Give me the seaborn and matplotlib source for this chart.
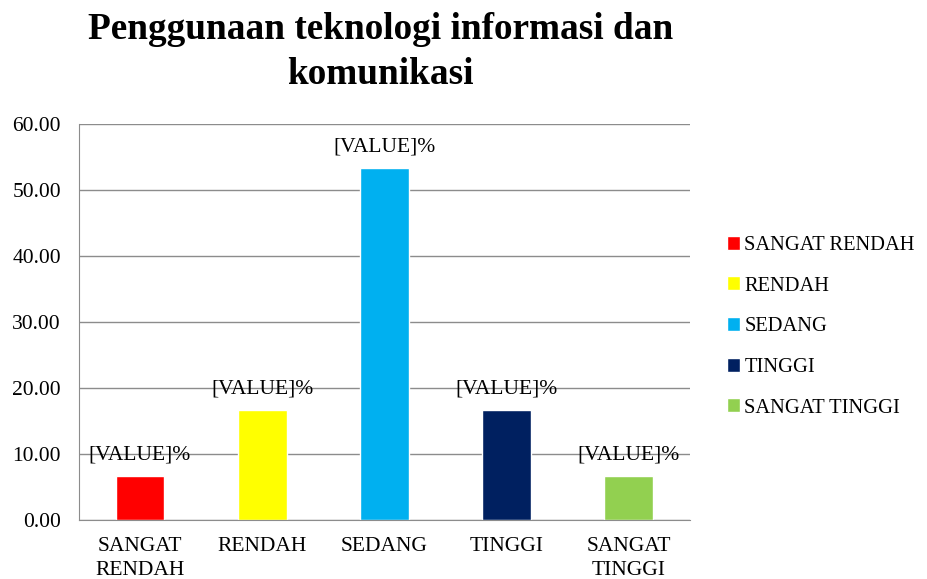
import matplotlib
matplotlib.use('Agg')
import matplotlib.pyplot as plt
import seaborn as sns
import pandas as pd
from matplotlib.ticker import FormatStrFormatter

# data
kategori = ['SANGAT RENDAH', 'RENDAH', 'SEDANG', 'TINGGI', 'SANGAT TINGGI']
label_x = ['SANGAT\nRENDAH', 'RENDAH', 'SEDANG', 'TINGGI', 'SANGAT\nTINGGI']
persen = [6.67, 16.67, 53.33, 16.67, 6.67]
warna = ['#FF0000', '#FFFF00', '#00B0F0', '#002060', '#92D050']

df = pd.DataFrame({'kategori': kategori, 'persen': persen})

sns.set_style('white')
plt.rcParams['font.family'] = ['Liberation Serif', 'DejaVu Serif']
plt.rcParams['text.color'] = 'black'
plt.rcParams['xtick.color'] = 'black'
plt.rcParams['ytick.color'] = 'black'

fig = plt.figure(figsize=(9.28, 5.79), dpi=100)
ax = fig.add_axes([0.085, 0.102, 0.6585, 0.684])

sns.barplot(data=df, x='kategori', y='persen', hue='kategori', palette=warna,
            width=0.4, saturation=1, legend=True, ax=ax)

ax.set_ylim(0, 60)
ax.set_yticks(range(0, 61, 10))
ax.yaxis.set_major_formatter(FormatStrFormatter('%.2f'))
ax.set_xticks(range(len(kategori)))
ax.set_xticklabels(label_x, fontsize=15.5, linespacing=1.4)
ax.tick_params(axis='y', labelsize=15.5, length=0, pad=13)
ax.tick_params(axis='x', length=0, pad=12)
ax.set_xlabel('')
ax.set_ylabel('')

ax.grid(axis='y', color='#8c8c8c', linewidth=1)
ax.set_axisbelow(True)
for s in ['top', 'right']:
    ax.spines[s].set_visible(False)
for s in ['left', 'bottom']:
    ax.spines[s].set_color('#8c8c8c')

# label data
for i, v in enumerate(persen):
    ax.annotate('[VALUE]%', (i, v), xytext=(0, 8), textcoords='offset points',
                ha='center', va='bottom', fontsize=15.5, color='black')

sns.move_legend(ax, 'center left', bbox_to_anchor=(1.03, 0.488), frameon=False,
                title=None, fontsize=14.8, handlelength=0.65, handleheight=0.65,
                handletextpad=0.2, labelspacing=1.05)

fig.text(0.41, 0.91, 'Penggunaan teknologi informasi dan\nkomunikasi',
         ha='center', va='center', fontsize=26.8, fontweight='bold',
         linespacing=1.38, color='black')

fig.savefig('out.png', dpi=100)
